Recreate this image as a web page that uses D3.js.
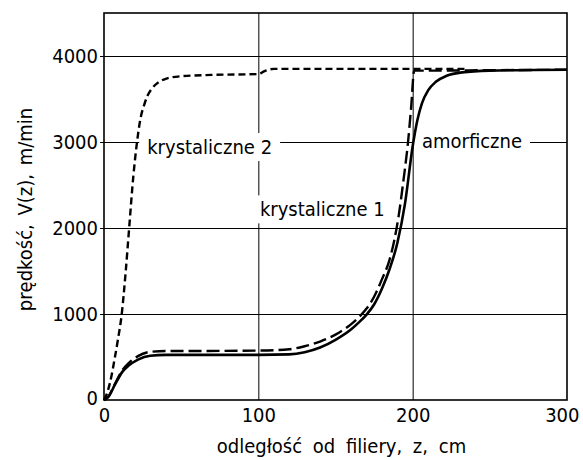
<!DOCTYPE html>
<html>
<head>
<meta charset="utf-8">
<script src="https://cdn.jsdelivr.net/npm/d3@7"></script>
<style>
  body { margin: 0; background: #fff; }
  text { font-family: "DejaVu Sans Condensed", "DejaVu Sans", sans-serif; fill: #000; }
</style>
</head>
<body>
<div id="chart"></div>
<script>
// odległość od filiery z [cm] i prędkość V(z) [m/min]
var amorfZ = [0, 3, 7, 12, 16, 22, 30, 40, 60, 100, 120, 130, 140, 150, 160, 165, 170, 175, 180, 185, 190, 195, 200, 203, 206, 210, 215, 222, 232, 250, 270, 300];
var amorfV = [0, 40, 175, 330, 400, 470, 515, 525, 525, 525, 530, 555, 610, 700, 820, 900, 990, 1110, 1290, 1520, 1820, 2280, 2950, 3250, 3450, 3600, 3700, 3770, 3810, 3830, 3835, 3840];

var kryst1Z = [0, 3, 7, 12, 16, 22, 30, 40, 60, 100, 120, 130, 140, 150, 160, 165, 170, 175, 180, 185, 188, 191, 194, 197, 199, 201, 210, 250, 300];
var kryst1V = [0, 45, 185, 350, 430, 510, 560, 570, 570, 575, 590, 625, 680, 760, 880, 960, 1060, 1200, 1400, 1630, 1850, 2150, 2550, 3000, 3400, 3830, 3830, 3835, 3840];

var kryst2Z = [0, 2, 4, 7, 9, 11.5, 14, 16.3, 19, 21.4, 23.5, 26, 28, 31, 35, 40, 50, 70, 100, 104, 110, 150, 235];
var kryst2V = [0, 80, 210, 490, 700, 1000, 1480, 2000, 2600, 3000, 3260, 3430, 3530, 3620, 3690, 3735, 3765, 3780, 3790, 3825, 3850, 3850, 3850];

var xTicks = [0, 100, 200, 300];
var yTicks = [0, 1000, 2000, 3000, 4000];

// podpisy krzywych: tekst, z, V (linia bazowa)
var labelText = ["krystaliczne 2", "krystaliczne 1", "amorficzne"];
var labelZ = [28, 101, 206];
var labelV = [2860, 2135, 2935];

var width = 583, height = 460,
    margin = {top: 13, right: 16, bottom: 60, left: 104},
    w = width - margin.left - margin.right,
    h = height - margin.top - margin.bottom;

var svg = d3.select("#chart").append("svg")
    .attr("width", width)
    .attr("height", height);

var g = svg.append("g")
    .attr("transform", "translate(" + margin.left + "," + margin.top + ")");

var x = d3.scaleLinear().domain([0, 300]).range([0, w]);
var y = d3.scaleLinear().domain([0, 4500]).range([h, 0]);

// siatka
g.append("g")
    .attr("class", "grid")
    .attr("transform", "translate(-4,0)")
    .call(d3.axisLeft(y).tickValues(yTicks.slice(1)).tickSize(-w - 4).tickFormat(""))
    .call(function (s) { s.select(".domain").remove(); });
g.append("g")
    .attr("class", "grid")
    .attr("transform", "translate(0," + h + ")")
    .call(d3.axisBottom(x).tickValues([100, 200]).tickSize(-h).tickFormat(""))
    .call(function (s) { s.select(".domain").remove(); });
g.selectAll(".grid line").attr("stroke", "#000").attr("stroke-width", 1);

var bgLayer = g.append("g");
var curveLayer = g.append("g");
var textLayer = g.append("g");

// ramka
g.append("rect")
    .attr("width", w)
    .attr("height", h)
    .attr("fill", "none")
    .attr("stroke", "#000")
    .attr("stroke-width", 1.6);

var line = d3.line()
    .x(function (d) { return x(d[0]); })
    .y(function (d) { return y(d[1]); })
    .curve(d3.curveMonotoneX);

function drawCurve(zs, vs, dash, sw) {
    curveLayer.append("path")
        .datum(d3.zip(zs, vs))
        .attr("d", line)
        .attr("fill", "none")
        .attr("stroke", "#000")
        .attr("stroke-width", sw)
        .attr("stroke-dasharray", dash)
        .attr("stroke-linejoin", "round");
}
drawCurve(kryst2Z, kryst2V, "7,4", 2.4);
drawCurve(kryst1Z, kryst1V, "13,5", 2.4);
drawCurve(amorfZ, amorfV, null, 2.6);

// podpisy z białym tłem przerywającym siatkę
labelText.forEach(function (t, i) {
    var tx = textLayer.append("text")
        .attr("x", x(labelZ[i]))
        .attr("y", y(labelV[i]))
        .style("font-size", "20px")
        .text(t);
    var b = tx.node().getBBox();
    bgLayer.append("rect")
        .attr("x", b.x - 8)
        .attr("y", b.y - 2)
        .attr("width", b.width + 16)
        .attr("height", b.height + 4)
        .attr("fill", "#fff");
});

// osie
var xAxis = g.append("g")
    .attr("transform", "translate(0," + h + ")")
    .call(d3.axisBottom(x).tickValues(xTicks).tickFormat(d3.format("d")).tickSize(0).tickPadding(8));
var yAxis = g.append("g")
    .call(d3.axisLeft(y).tickValues(yTicks).tickFormat(d3.format("d")).tickSize(0).tickPadding(6));
[xAxis, yAxis].forEach(function (a) {
    a.select(".domain").remove();
    a.selectAll("text")
        .style("font-size", "20px")
        .style("font-family", "\"DejaVu Sans Condensed\", \"DejaVu Sans\", sans-serif");
});
xAxis.selectAll(".tick").filter(function (d) { return d === 300; })
    .select("text").attr("text-anchor", "end").attr("dx", "0.6em");
yAxis.selectAll(".tick").filter(function (d) { return d === 0; })
    .select("text").attr("dy", "0.2em");

// tytuły osi
g.append("text")
    .attr("x", w / 2 + 6)
    .attr("y", h + 53)
    .attr("text-anchor", "middle")
    .style("font-size", "20px")
    .style("word-spacing", "5px")
    .text("odległość od filiery, z, cm");

g.append("text")
    .attr("transform", "translate(" + (-margin.left + 32) + "," + (h / 2 + 3) + ")rotate(-90)")
    .attr("text-anchor", "middle")
    .style("font-size", "20px")
    .style("word-spacing", "3px")
    .text("prędkość, V(z), m/min");
</script>
</body>
</html>
